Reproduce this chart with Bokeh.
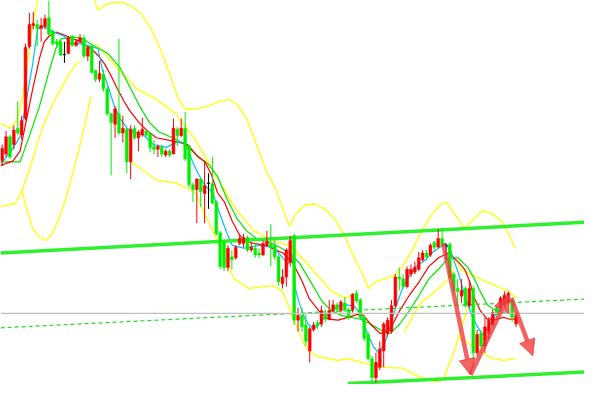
from bokeh.plotting import figure
from bokeh.models import Range1d, Arrow, NormalHead, Span
from bokeh.embed import file_html
from bokeh.resources import INLINE

# ---- candle data (bar index = position, price in points) ----
opens = [233,240,258,250,267,260,277,352,374,375,371,373,382,368,357,357,344,345,363,353,
         357,361,342,352,327,318,323,308,282,271,282,262,266,232,267,257,260,264,262,248,
         245,247,239,243,240,266,259,267,248,208,203,214,199,210,209,190,158,148,122,133,
         132,147,147,153,140,142,137,135,145,147,145,133,105,112,127,155,67,72,62,35,
         57,64,63,73,68,77,83,77,85,78,78,95,88,70,52,27,7,18,35,53,
         55,82,112,110,102,115,117,120,130,137,135,148,143,152,145,146,115,100,92,100,
         82,100,33,53,40,53,62,80,80,83,85,88,63]
highs = [250,264,260,270,295,280,355,387,388,380,382,385,400,370,360,360,357,363,364,360,
         365,364,353,354,328,337,328,310,283,290,360,280,267,270,270,265,278,265,263,255,
         250,250,245,245,277,268,277,284,250,210,215,215,232,220,237,192,160,150,145,140,
         145,157,157,155,147,147,142,150,160,167,150,135,120,142,155,157,80,80,73,60,
         65,67,82,78,88,88,85,88,91,80,95,98,90,72,55,30,33,45,65,70,
         88,115,122,115,123,125,128,138,140,140,147,150,162,162,147,148,117,110,110,102,
         108,103,57,57,70,70,78,82,92,97,97,90,75]
lows = [228,237,235,245,260,255,275,350,370,352,357,370,363,353,352,342,335,344,352,352,
        356,340,337,324,315,315,305,280,218,257,260,252,220,214,255,243,258,258,242,240,
        237,237,237,237,240,248,258,233,205,190,168,185,168,183,188,155,120,118,118,120,
        130,145,143,138,138,132,132,134,143,123,130,103,100,102,123,62,55,55,40,23,
        55,58,60,65,67,75,75,75,77,67,75,85,67,45,25,2,2,15,18,50,
        53,80,98,100,100,112,115,118,128,130,133,140,143,143,130,110,95,80,85,80,
        80,17,30,37,33,47,60,72,77,80,83,65,60]
closes = [246,258,237,265,262,275,351,375,376,371,374,381,365,355,355,343,344,361,353,357,
          361,342,351,325,318,324,308,282,273,287,262,267,232,266,257,263,266,260,247,245,
          248,240,243,239,267,259,267,235,208,203,214,201,207,210,189,157,123,122,142,130,
          143,152,153,140,143,135,135,147,149,143,133,107,112,140,150,67,72,60,45,58,
          62,61,77,68,77,83,78,86,78,70,94,87,70,48,27,7,23,37,63,67,
          82,112,110,102,120,120,122,132,137,133,145,143,152,145,145,112,98,97,98,82,
          100,33,52,40,60,67,75,75,90,93,95,70,72]

# ---- moving averages (bar index, price) ----
cyan_x = [-0.4,2.1,4.6,6.6,7.8,9.1,10.8,13.3,15.8,17.6,19.6,22.1,24.6,25.8,27.1,28.8,30.3,32.1,33.8,36.3,
          38.8,42.1,45.1,46.6,47.6,48.8,50.3,52.1,54.1,55.3,56.6,57.8,59.1,62.1,65.8,69.6,72.1,73.3,74.6,75.3,
          76.3,77.6,78.8,80.1,81.3,82.8,84.6,86.3,88.3,90.3,92.1,93.8,95.3,96.6,98.3,99.6,101.3,102.8,104.6,106.3,
          108.8,110.3,112.1,113.8,115.3,117.1,118.8,120.3,122.1,123.3,125.1,126.6,128.3,129.6,130.8,131.8]
cyan_y = [230,242,258,305,333,370,373,367,363,355,355,353,350,327,312,290,277,267,263,260,
          250,247,253,252,247,233,220,207,200,185,170,157,145,142,145,143,132,125,132,100,
          85,70,62,58,63,70,77,82,83,82,73,53,40,33,43,60,83,100,113,123,
          130,137,142,147,138,117,93,75,60,52,60,72,82,88,87,82]
red_x = [-0.4,2.8,4.6,6.3,7.8,9.6,10.8,12.1,13.8,15.3,17.1,19.6,22.8,24.6,26.3,27.8,29.6,31.3,32.8,35.1,
         37.1,39.6,44.6,47.6,50.3,52.1,53.8,55.3,57.1,59.1,60.8,62.1,64.6,67.8,70.3,72.1,74.6,77.1,78.8,81.3,
         83.8,86.3,88.8,91.3,92.8,94.6,97.1,99.6,102.1,104.6,107.1,109.6,112.1,114.6,117.1,118.8,120.1,121.3,122.8,124.6,
         127.1,128.8,130.3,131.8]
red_y = [228,233,243,277,307,340,357,363,367,365,362,358,350,343,334,323,308,295,285,273,
         265,257,253,250,237,232,218,200,190,170,157,150,147,145,140,137,127,107,90,77,
         68,67,70,73,72,63,53,57,77,93,107,123,132,137,128,120,107,90,77,68,
         68,70,68,68]
green_x = [-0.4,4.6,7.1,9.6,12.1,13.8,15.1,17.8,20.3,23.8,27.1,30.3,32.8,35.3,37.8,40.3,43.8,47.1,49.6,52.8,
           55.3,57.8,60.3,62.8,65.3,68.8,71.3,73.8,76.3,78.8,82.1,84.6,87.1,89.6,92.1,94.6,97.1,99.6,102.1,104.6,
           107.1,109.6,112.1,114.6,117.1,119.6,121.3,122.8,124.6,126.3,128.8,131.3]
green_y = [232,232,260,290,327,350,360,362,361,352,345,330,310,290,273,263,257,250,240,230,
           217,193,173,160,152,148,143,137,127,110,87,77,72,70,68,63,57,53,63,77,
           93,110,120,132,132,122,110,97,83,78,75,73]

# ---- band lines (yellow) ----
band_outer_up_x = [23.3,24.6,26.3,28.3,30.8,33.3,35.8,38.3,40.8,43.3,45.3,47.1,49.6,52.8,55.8,58.3,60.3,62.8,65.3,67.8,
                   70.3,72.8,73.8,75.3,77.8,80.3,82.8,85.3,87.8,90.3,92.8,94.1,95.8,98.3,100.8,102.8,105.3,107.8,110.3,112.6,
                   114.1,116.3,118.8,121.3,123.3,125.8,128.3,130.1,131.8]
band_outer_up_y = [405,390,395,398,398,394,386,370,348,320,297,287,287,290,295,297,292,277,250,223,
                   203,175,165,177,187,188,183,173,157,133,113,100,107,110,114,123,140,160,177,188,
                   190,177,163,173,181,178,170,157,142]
band_left_up_x = [-0.4,2.1,3.8,5.3,6.6,7.8,9.1,10.1]
band_left_up_y = [272,267,275,300,338,375,400,410]
band_in_up_x = [23.8,25.3,28.8,34.6,39.6,44.6,49.6,54.6,59.6,64.6,69.6,74.6,79.6,84.6,88.3,90.8]
band_in_up_y = [355,350,333,308,297,282,255,220,185,160,150,143,120,97,90,95]
band_in_up2_x = [115.3,117.8,123.8,129.6,132.1]
band_in_up2_y = [137,120,108,98,90]
band_low_a_x = [-0.4,2.1,3.3,5.1,7.1,10.3,13.3,16.3,18.8,20.1]
band_low_a_y = [185,188,188,202,225,267,295,317,333,337]
band_low_b_x = [5.1,6.3,7.8,9.6,11.3,12.8,14.6,16.3,17.8,19.6,21.3,22.8]
band_low_b_y = [202,183,163,153,150,157,173,193,215,243,272,300]
band_low_mid_x = [32.8,39.6,44.6,49.6,56.3,59.6,63.3,67.1,69.6,72.1,74.6,77.8,80.3,86.3,88.8,93.3,97.1,102.8,107.1,111.3,
                  113.3,116.3,119.6]
band_low_mid_y = [233,213,210,200,140,110,100,102,103,97,70,40,30,25,27,22,18,17,8,3,
                  5,37,80]
band_low_rise_x = [103.3,107.1,112.1,114.6,116.3]
band_low_rise_y = [55,83,100,110,120]
band_low_end_x = [117.1,122.1,125.3,128.8,131.6]
band_low_end_y = [50,37,28,25,27]

# ---- drawn objects: trend lines, price line, arrows ----
trend_up_x = [-0.4, 149.6]
trend_up_y = [137, 169]
trend_low_x = [88.8, 149.6]
trend_low_y = [1, 13]
trend_dash_x = [-0.4, 149.6]
trend_dash_y = [59, 89]
price_line = 74
arrow_x0 = [113.3, 120.3, 130.8]
arrow_y0 = [147, 10, 90]
arrow_x1 = [120.3, 130.1, 136.3]
arrow_y1 = [10, 93, 30]

p = figure(width=584, height=384, output_backend="svg", toolbar_location=None,
           x_range=Range1d(-0.425, 149.575), y_range=Range1d(0, 400),
           min_border=0, background_fill_color="white", border_fill_color="white")
p.axis.visible = False
p.grid.visible = False
p.outline_line_color = None

YEL = "#FFFF00"
for xs, ys in [(band_outer_up_x, band_outer_up_y), (band_left_up_x, band_left_up_y),
               (band_in_up_x, band_in_up_y), (band_in_up2_x, band_in_up2_y),
               (band_low_a_x, band_low_a_y), (band_low_b_x, band_low_b_y),
               (band_low_mid_x, band_low_mid_y), (band_low_rise_x, band_low_rise_y),
               (band_low_end_x, band_low_end_y)]:
    p.line(xs, ys, line_color=YEL, line_width=1.3)

p.line(green_x, green_y, line_color="#00E800", line_width=1.2)
p.line(red_x, red_y, line_color="#FF0000", line_width=1.2)
p.line(cyan_x, cyan_y, line_color="#00BFFF", line_width=1.2)

p.add_layout(Span(location=price_line, dimension="width", line_color="#C0C0C0", line_width=1.3))
p.line(trend_dash_x, trend_dash_y, line_color="#22DD22", line_width=1.2, line_dash="4 3")
p.line(trend_up_x, trend_up_y, line_color="#2EF02E", line_width=3.5)
p.line(trend_low_x, trend_low_y, line_color="#2EF02E", line_width=3.5)

idx = list(range(len(opens)))
cols = ["#FF0000" if c > o else ("#00F000" if c < o else "#000000") for o, c in zip(opens, closes)]
p.segment(idx, highs, idx, lows, line_color=cols, line_width=1)
tops = [max(o, c) for o, c in zip(opens, closes)]
bots = [min(o, c) if c != o else o - 0.6 for o, c in zip(opens, closes)]
tops = [t if t != b else t + 0.6 for t, b in zip(tops, bots)]
p.vbar(x=idx, top=tops, bottom=bots, width=0.72, fill_color=cols, line_color=cols, line_width=0.5)

ARC = "#F03C3C"
for x0, y0, x1, y1 in zip(arrow_x0, arrow_y0, arrow_x1, arrow_y1):
    p.add_layout(Arrow(end=NormalHead(size=16, fill_color=ARC, line_color=ARC, fill_alpha=0.8, line_alpha=0.8),
                       x_start=x0, y_start=y0, x_end=x1, y_end=y1,
                       line_color=ARC, line_width=4.5, line_alpha=0.8))

open("out.html", "w").write(file_html(p, INLINE))
